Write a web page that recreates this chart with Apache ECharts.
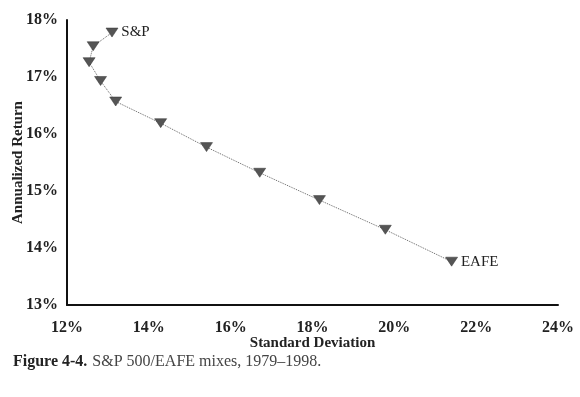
<!DOCTYPE html>
<html>
<head>
<meta charset="utf-8">
<script src="https://cdn.jsdelivr.net/npm/echarts@6/dist/echarts.min.js"></script>
<style>
  html, body { margin: 0; padding: 0; background: #fff; }
  #chart { width: 580px; height: 397px; }
</style>
</head>
<body>
<div id="chart"></div>
<script>
// S&P 500 / EAFE mixes, 1979-1998 (100% S&P first, 100% EAFE last)
const stdDev = [13.1, 12.64, 12.54, 12.82, 13.19, 14.29, 15.41, 16.71, 18.17, 19.78, 21.4]
const annReturn = [17.78, 17.54, 17.26, 16.93, 16.57, 16.19, 15.77, 15.32, 14.84, 14.32, 13.76]
const pointNames = ['S&P', '', '', '', '', '', '', '', '', '', 'EAFE']

const serif = '"Liberation Serif", "DejaVu Serif", serif'

const chart = echarts.init(document.getElementById('chart'))

const data = stdDev.map((x, i) => {
  const item = { value: [x, annReturn[i]] }
  if (pointNames[i]) {
    item.label = { show: true, formatter: pointNames[i] }
  }
  return item
})

chart.setOption({
  animation: false,
  backgroundColor: '#fff',
  grid: { left: 67, right: 22, top: 20, bottom: 92, outerBoundsMode: 'none', containLabel: false },
  title: {
    left: 8,
    top: 348,
    text: '{b|Figure 4-4.} {n|S&P 500/EAFE mixes, 1979–1998.}',
    textStyle: {
      rich: {
        b: { fontFamily: serif, fontWeight: 'bold', fontSize: 16, color: '#222' },
        n: { fontFamily: serif, fontWeight: 'normal', fontSize: 16, color: '#444' },
      },
    },
  },
  xAxis: {
    type: 'value',
    min: 12,
    max: 24,
    interval: 2,
    name: 'Standard Deviation',
    nameLocation: 'middle',
    nameGap: 31,
    nameMoveOverlap: false,
    nameTextStyle: { fontFamily: serif, fontWeight: 'bold', fontSize: 15, color: '#222' },
    axisLine: { lineStyle: { color: '#111', width: 2 } },
    axisTick: { show: false },
    splitLine: { show: false },
    axisLabel: {
      formatter: '{value}%',
      margin: 15,
      fontFamily: serif,
      fontWeight: 'bold',
      fontSize: 16,
      color: '#222',
    },
  },
  yAxis: {
    type: 'value',
    min: 13,
    max: 18,
    interval: 1,
    name: 'Annualized Return',
    nameLocation: 'middle',
    nameGap: 41,
    nameMoveOverlap: false,
    nameTextStyle: { fontFamily: serif, fontWeight: 'bold', fontSize: 15, color: '#222' },
    axisLine: { show: true, lineStyle: { color: '#111', width: 2 } },
    axisTick: { show: false },
    splitLine: { show: false },
    axisLabel: {
      formatter: '{value}%',
      margin: 9,
      fontFamily: serif,
      fontWeight: 'bold',
      fontSize: 16,
      color: '#222',
    },
  },
  series: [
    {
      type: 'line',
      data: data,
      symbol: 'triangle',
      symbolRotate: 180,
      symbolSize: [12, 9],
      itemStyle: { color: '#555', borderColor: '#333', borderWidth: 0.5 },
      lineStyle: { color: '#666', width: 1, type: 'dotted' },
      label: {
        position: 'right',
        distance: 3,
        fontFamily: serif,
        fontSize: 15,
        color: '#222',
      },
    },
  ],
})
</script>
</body>
</html>
